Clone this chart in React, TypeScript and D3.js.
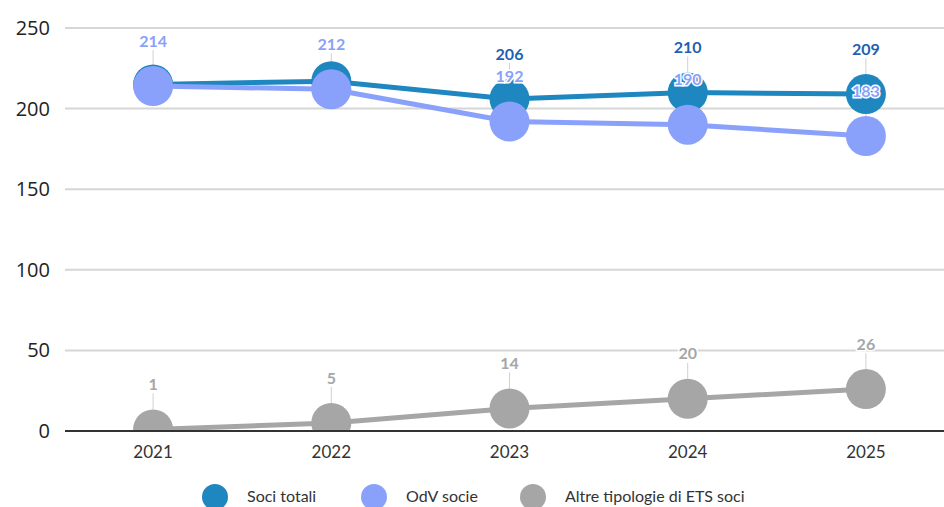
import * as d3 from "d3";

const years = ["2021", "2022", "2023", "2024", "2025"];
const sociTotali = [215, 217, 206, 210, 209];
const odvSocie = [214, 212, 192, 190, 183];
const altreEts = [1, 5, 14, 20, 26];
// totali labels in 2021/2022 sit under the OdV ones in the original, so only these show
const totaliLabelShown = [false, false, true, true, true];
const yTicks = [0, 50, 100, 150, 200, 250];

const W = 944;
const H = 507;
const FONT = "Lato, 'Open Sans', sans-serif";

const series = [
  { name: "Soci totali", color: "#1e87bf", labelColor: "#1f5fb3", values: sociTotali, shown: totaliLabelShown },
  { name: "OdV socie", color: "#8aa1fb", labelColor: "#8aa1fb", values: odvSocie, shown: years.map(() => true) },
  { name: "Altre tipologie di ETS soci", color: "#a6a6a6", labelColor: "#a6a6a6", values: altreEts, shown: years.map(() => true) },
];

const legendX = [215, 374, 533];

export default function App() {
  const x = d3.scalePoint<string>().domain(years).range([64, 955]).padding(0.5);
  const y = d3.scaleLinear().domain([0, 250]).range([431, 28]);

  const line = d3
    .line<number>()
    .x((_, i) => x(years[i]) as number)
    .y((d) => y(d));

  return (
    <svg
      width={W}
      height={H}
      style={{ position: "absolute", left: 0, top: 0, background: "#fff" }}
      fontFamily={FONT}
    >
      <defs>
        <clipPath id="plot">
          <rect x={65} y={0} width={W - 65} height={y(0)} />
        </clipPath>
      </defs>

      {/* grid + y ticks */}
      {yTicks.map((t) => (
        <g key={t}>
          {t !== 0 && (
            <line x1={65} x2={W} y1={y(t)} y2={y(t)} stroke="#d6d6d6" strokeWidth={2} />
          )}
          <text x={50} y={y(t)} dy="0.35em" textAnchor="end" fontSize={20} fill="#222" fontFamily="'Open Sans', sans-serif">
            {t}
          </text>
        </g>
      ))}

      {/* x labels */}
      {years.map((yr) => (
        <text key={yr} x={x(yr)} y={452} dy="0.35em" textAnchor="middle" fontSize={17} fill="#333">
          {yr}
        </text>
      ))}

      {/* leader lines */}
      {series.map((s) =>
        s.values.map((v, i) =>
          s.shown[i] ? (
            <line
              key={s.name + i}
              x1={x(years[i])}
              x2={x(years[i])}
              y1={y(v) - 36}
              y2={y(v) - 20}
              stroke="#d0d0d0"
              strokeWidth={1}
            />
          ) : null
        )
      )}

      {/* lines + markers */}
      <g clipPath="url(#plot)">
        {series.map((s) => (
          <g key={s.name}>
            <path d={line(s.values) || ""} fill="none" stroke={s.color} strokeWidth={5} />
            {s.values.map((v, i) => (
              <circle key={i} cx={x(years[i])} cy={y(v)} r={20} fill={s.color} />
            ))}
          </g>
        ))}
      </g>

      <line x1={65} x2={W} y1={y(0)} y2={y(0)} stroke="#333" strokeWidth={2} />

      {/* data labels */}
      {series.map((s) =>
        s.values.map((v, i) =>
          s.shown[i] ? (
            <text
              key={s.name + "l" + i}
              x={x(years[i])}
              y={y(v) - 45}
              dy="0.35em"
              textAnchor="middle"
              fontSize={16}
              fontWeight="bold"
              fill={s.labelColor}
              stroke="#fff"
              strokeWidth={3}
              paintOrder="stroke"
            >
              {v}
            </text>
          ) : null
        )
      )}

      {/* legend */}
      {series.map((s, i) => (
        <g key={s.name + "lg"}>
          <circle cx={legendX[i]} cy={497} r={13} fill={s.color} />
          <text x={legendX[i] + 32} y={496} dy="0.35em" fontSize={16} fill="#333">
            {s.name}
          </text>
        </g>
      ))}
    </svg>
  );
}
